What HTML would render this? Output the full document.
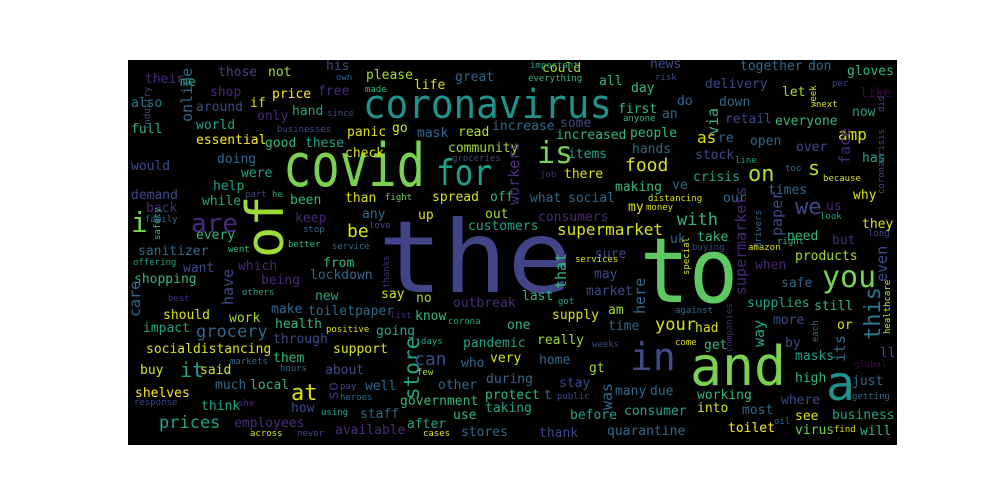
<!DOCTYPE html>
<html><head><meta charset="utf-8">
<style>
html,body{margin:0;padding:0;background:#fff;width:1000px;height:500px;overflow:hidden}
svg{display:block}
text{font-family:"DejaVu Sans Mono","Liberation Mono",monospace}
</style></head>
<body>
<svg id="cloud" width="1000" height="500" viewBox="0 0 1000 500" xmlns="http://www.w3.org/2000/svg">
<rect x="128" y="60" width="769" height="385" fill="#000"/>
<g id="words">
<!-- big words -->
<text x="378" y="292" font-size="100" fill="#414487" textLength="194" lengthAdjust="spacingAndGlyphs">the</text>
<text x="640" y="302" font-size="90" fill="#5ec962" textLength="98" lengthAdjust="spacingAndGlyphs">to</text>
<text x="690" y="385" font-size="54" fill="#7ad151" textLength="96" lengthAdjust="spacingAndGlyphs">and</text>
<text x="283" y="186" font-size="60" fill="#7ad151" textLength="142" lengthAdjust="spacingAndGlyphs">covid</text>
<text x="363" y="118" font-size="40" fill="#21918c" textLength="249" lengthAdjust="spacingAndGlyphs">coronavirus</text>
<text x="436" y="185" font-size="36" fill="#1f9e89" textLength="56" lengthAdjust="spacingAndGlyphs">for</text>
<text x="537" y="163" font-size="30" fill="#7ad151">is</text>
<text transform="translate(283,258) rotate(-90)" font-size="52" fill="#a0da39">of</text>
<text x="630" y="370" font-size="38" fill="#3e4989">in</text>
<text x="826" y="400" font-size="48" fill="#21918c">a</text>
<text x="822" y="287" font-size="30" fill="#7ad151">you</text>
<text x="191" y="232" font-size="26" fill="#482878">are</text>
<text x="131" y="232" font-size="28" fill="#7ad151">i</text>
<text transform="translate(880,340) rotate(-90)" font-size="22" fill="#2a788e">this</text>
<text transform="translate(419,400) rotate(-90)" font-size="21" fill="#20a486">store</text>
<text x="748" y="181" font-size="22" fill="#b5de2b">on</text>
<text x="795" y="214" font-size="22" fill="#3e4989">we</text>
<text x="625" y="171" font-size="18" fill="#d8e219">food</text>
<text x="808" y="175" font-size="20" fill="#b5de2b">s</text>
<text x="677" y="225" font-size="17" fill="#35b779">with</text>
<text x="557" y="235" font-size="16" fill="#d8e219">supermarket</text>
<text x="159" y="428" font-size="17" fill="#20a486">prices</text>
<text x="196" y="337" font-size="17" fill="#31688e">grocery</text>
<text x="655" y="330" font-size="17" fill="#d8e219">your</text>
<text x="838" y="140" font-size="16" fill="#d8e219">amp</text>
<text x="347" y="237" font-size="18" fill="#d8e219">be</text>
<text x="697" y="143" font-size="16" fill="#d8e219">as</text>
<text x="180" y="377" font-size="20" fill="#20a486">it</text>
<text x="291" y="400" font-size="22" fill="#d8e219">at</text>
<text x="414" y="365" font-size="18" fill="#3e4989">can</text>
<!-- medium / small words -->
<g font-size="13">
<text x="145" y="83" fill="#482878">their</text>
<text x="218" y="76" fill="#414487">those</text>
<text x="268" y="76" fill="#a0da39">not</text>
<text x="326" y="70" fill="#3e4989">his</text>
<text x="366" y="79" fill="#a0da39">please</text>
<text x="455" y="81" fill="#31688e">great</text>
<text x="180" y="86" fill="#35b779">me</text>
<text x="210" y="96" fill="#482878">shop</text>
<text x="272" y="98" fill="#fde725">price</text>
<text x="318" y="95" fill="#472d7b">free</text>
<text x="414" y="89" fill="#d8e219">life</text>
<text x="131" y="107" fill="#2a788e">also</text>
<text x="196" y="111" fill="#3e4989">around</text>
<text x="250" y="107" fill="#d8e219">if</text>
<text x="257" y="120" fill="#482878">only</text>
<text x="292" y="115" fill="#20a486">hand</text>
<text x="196" y="129" fill="#20a486">world</text>
<text x="131" y="133" fill="#35b779">full</text>
<text x="347" y="136" fill="#d8e219">panic</text>
<text x="392" y="132" fill="#d8e219">go</text>
<text x="417" y="137" fill="#31688e">mask</text>
<text x="458" y="136" fill="#b5de2b">read</text>
<text x="492" y="130" fill="#31688e">increase</text>
<text x="196" y="144" fill="#fde725">essential</text>
<text x="265" y="147" fill="#35b779">good</text>
<text x="305" y="147" fill="#20a486">these</text>
<text x="345" y="157" fill="#d8e219">check</text>
<text x="448" y="152" fill="#a0da39">community</text>
<text x="217" y="163" fill="#31688e">doing</text>
<text x="131" y="170" fill="#3e4989">would</text>
<text x="241" y="177" fill="#20a486">were</text>
<text x="131" y="199" fill="#3e4989">demand</text>
<text x="146" y="212" fill="#482878">back</text>
<text x="213" y="190" fill="#20a486">help</text>
<text x="202" y="205" fill="#20a486">while</text>
<text x="290" y="204" fill="#35b779">been</text>
<text x="345" y="202" fill="#d8e219">than</text>
<text x="432" y="201" fill="#d8e219">spread</text>
<text x="490" y="201" fill="#35b779">off</text>
<text x="362" y="218" fill="#31688e">any</text>
<text x="295" y="222" fill="#482878">keep</text>
<text x="418" y="219" fill="#d8e219">up</text>
<text x="485" y="218" fill="#a0da39">out</text>
<text x="468" y="230" fill="#20a486">customers</text>
<text x="196" y="239" fill="#35b779">every</text>
<text x="138" y="255" fill="#31688e">sanitizer</text>
<text x="542" y="72" fill="#a0da39">could</text>
<text x="599" y="85" fill="#35b779">all</text>
<text x="650" y="68" fill="#3e4989">news</text>
<text x="740" y="70" fill="#31688e">together</text>
<text x="808" y="70" fill="#31688e">don</text>
<text x="847" y="75" fill="#35b779">gloves</text>
<text x="631" y="92" fill="#35b779">day</text>
<text x="705" y="88" fill="#3e4989">delivery</text>
<text x="782" y="96" fill="#a0da39">let</text>
<text x="860" y="97" fill="#440154">like</text>
<text x="618" y="113" fill="#35b779">first</text>
<text x="677" y="105" fill="#31688e">do</text>
<text x="719" y="106" fill="#31688e">down</text>
<text x="662" y="118" fill="#31688e">an</text>
<text x="725" y="123" fill="#3e4989">retail</text>
<text x="775" y="125" fill="#35b779">everyone</text>
<text x="852" y="116" fill="#20a486">now</text>
<text x="560" y="127" fill="#3e4989">some</text>
<text x="556" y="139" fill="#35b779">increased</text>
<text x="630" y="137" fill="#35b779">people</text>
<text x="718" y="142" fill="#31688e">re</text>
<text x="750" y="145" fill="#31688e">open</text>
<text x="796" y="151" fill="#3e4989">over</text>
<text x="862" y="162" fill="#20a486">has</text>
<text x="632" y="153" fill="#31688e">hands</text>
<text x="568" y="158" fill="#20a486">items</text>
<text x="695" y="159" fill="#3e4989">stock</text>
<text x="564" y="178" fill="#d8e219">there</text>
<text x="693" y="181" fill="#20a486">crisis</text>
<text x="615" y="191" fill="#35b779">making</text>
<text x="672" y="189" fill="#31688e">ve</text>
<text x="768" y="194" fill="#31688e">times</text>
<text x="853" y="199" fill="#d8e219">why</text>
<text x="530" y="202" fill="#31688e">what</text>
<text x="568" y="202" fill="#31688e">social</text>
<text x="723" y="202" fill="#31688e">our</text>
<text x="826" y="210" fill="#482878">us</text>
<text x="628" y="211" fill="#d8e219">my</text>
<text x="538" y="221" fill="#482878">consumers</text>
<text x="862" y="228" fill="#d8e219">they</text>
<text x="670" y="243" fill="#31688e">uk</text>
<text x="697" y="241" fill="#35b779">take</text>
<text x="787" y="240" fill="#35b779">need</text>
<text x="832" y="244" fill="#472d7b">but</text>
<text x="595" y="258" fill="#3e4989">sure</text>
<text x="795" y="260" fill="#a0da39">products</text>
<text x="755" y="269" fill="#482878">when</text>
<text x="781" y="287" fill="#31688e">safe</text>
<text x="323" y="267" fill="#35b779">from</text>
<text x="310" y="279" fill="#31688e">lockdown</text>
<text x="134" y="283" fill="#35b779">shopping</text>
<text x="183" y="272" fill="#3e4989">want</text>
<text x="238" y="270" fill="#482878">which</text>
<text x="261" y="284" fill="#482878">being</text>
<text x="315" y="300" fill="#20a486">new</text>
<text x="381" y="298" fill="#d8e219">say</text>
<text x="416" y="302" fill="#a0da39">no</text>
<text x="453" y="307" fill="#472d7b">outbreak</text>
<text x="522" y="300" fill="#35b779">last</text>
<text x="594" y="278" fill="#3e4989">may</text>
<text x="586" y="295" fill="#3e4989">market</text>
<text x="747" y="307" fill="#20a486">supplies</text>
<text x="814" y="310" fill="#35b779">still</text>
<text x="163" y="319" fill="#d8e219">should</text>
<text x="229" y="322" fill="#a0da39">work</text>
<text x="271" y="313" fill="#31688e">make</text>
<text x="308" y="315" fill="#31688e">toiletpaper</text>
<text x="415" y="320" fill="#35b779">know</text>
<text x="608" y="314" fill="#a0da39">am</text>
<text x="608" y="330" fill="#31688e">time</text>
<text x="695" y="332" fill="#d8e219">had</text>
<text x="773" y="324" fill="#3e4989">more</text>
<text x="837" y="329" fill="#d8e219">or</text>
<text x="143" y="332" fill="#20a486">impact</text>
<text x="275" y="328" fill="#35b779">health</text>
<text x="273" y="343" fill="#3e4989">through</text>
<text x="376" y="335" fill="#20a486">going</text>
<text x="552" y="319" fill="#d8e219">supply</text>
<text x="507" y="329" fill="#35b779">one</text>
<text x="146" y="353" fill="#d8e219">socialdistancing</text>
<text x="333" y="353" fill="#d8e219">support</text>
<text x="463" y="347" fill="#20a486">pandemic</text>
<text x="537" y="344" fill="#a0da39">really</text>
<text x="704" y="349" fill="#35b779">get</text>
<text x="785" y="347" fill="#3e4989">by</text>
<text x="880" y="357" fill="#3e4989">ll</text>
<text x="140" y="374" fill="#d8e219">buy</text>
<text x="200" y="374" fill="#d8e219">said</text>
<text x="273" y="362" fill="#35b779">them</text>
<text x="325" y="374" fill="#3e4989">about</text>
<text x="461" y="367" fill="#31688e">who</text>
<text x="490" y="362" fill="#d8e219">very</text>
<text x="539" y="364" fill="#31688e">home</text>
<text x="589" y="372" fill="#a0da39">gt</text>
<text x="795" y="360" fill="#20a486">masks</text>
<text x="795" y="382" fill="#35b779">high</text>
<text x="852" y="385" fill="#31688e">just</text>
<text x="215" y="389" fill="#31688e">much</text>
<text x="250" y="389" fill="#35b779">local</text>
<text x="135" y="397" fill="#fde725">shelves</text>
<text x="365" y="390" fill="#31688e">well</text>
<text x="438" y="389" fill="#31688e">other</text>
<text x="486" y="383" fill="#31688e">during</text>
<text x="559" y="387" fill="#3e4989">stay</text>
<text x="615" y="395" fill="#31688e">many</text>
<text x="650" y="395" fill="#31688e">due</text>
<text x="781" y="404" fill="#3e4989">where</text>
<text x="201" y="410" fill="#20a486">think</text>
<text x="291" y="412" fill="#3e4989">how</text>
<text x="485" y="399" fill="#35b779">protect</text>
<text x="544" y="399" fill="#31688e">t</text>
<text x="697" y="399" fill="#35b779">working</text>
<text x="832" y="419" fill="#20a486">business</text>
<text x="795" y="420" fill="#d8e219">see</text>
<text x="360" y="418" fill="#31688e">staff</text>
<text x="400" y="405" fill="#35b779">government</text>
<text x="485" y="412" fill="#20a486">taking</text>
<text x="697" y="412" fill="#d8e219">into</text>
<text x="742" y="414" fill="#31688e">most</text>
<text x="234" y="427" fill="#472d7b">employees</text>
<text x="453" y="419" fill="#35b779">use</text>
<text x="570" y="419" fill="#20a486">before</text>
<text x="624" y="415" fill="#20a486">consumer</text>
<text x="795" y="434" fill="#6ece58">virus</text>
<text x="728" y="432" fill="#fde725">toilet</text>
<text x="335" y="434" fill="#472d7b">available</text>
<text x="407" y="428" fill="#20a486">after</text>
<text x="461" y="436" fill="#31688e">stores</text>
<text x="539" y="437" fill="#3e4989">thank</text>
<text x="607" y="435" fill="#31688e">quarantine</text>
<text x="860" y="435" fill="#35b779">will</text>
</g>
<g font-size="15">
<text transform="translate(192,122) rotate(-90)" fill="#31688e">online</text>
<text transform="translate(519,205) rotate(-90)" fill="#472d7b">workers</text>
<text transform="translate(233,305) rotate(-90)" fill="#3e4989">have</text>
<text transform="translate(566,289) rotate(-90)" fill="#35b779">that</text>
<text transform="translate(645,314) rotate(-90)" fill="#31688e">here</text>
<text transform="translate(887,282) rotate(-90)" fill="#3e4989">even</text>
<text transform="translate(782,236) rotate(-90)" fill="#3e4989">paper</text>
<text transform="translate(746,295) rotate(-90)" fill="#482878">supermarkets</text>
<text transform="translate(845,362) rotate(-90)" fill="#31688e">its</text>
<text transform="translate(850,164) rotate(-90)" fill="#472d7b">face</text>
<text transform="translate(718,135) rotate(-90)" fill="#35b779">via</text>
<text transform="translate(612,410) rotate(-90)" fill="#31688e">was</text>
<text transform="translate(764,347) rotate(-90)" fill="#20a486">way</text>
<text transform="translate(140,317) rotate(-90)" fill="#31688e">care</text>
<text transform="translate(338,400) rotate(-90)" fill="#472d7b">so</text>
</g>
<g font-size="9">
<text x="336" y="80" fill="#31688e">own</text>
<text x="365" y="92" fill="#35b779">made</text>
<text x="327" y="116" fill="#3e4989">since</text>
<text x="277" y="132" fill="#3e4989">businesses</text>
<text x="452" y="161" fill="#3e4989">groceries</text>
<text x="245" y="197" fill="#3e4989">part</text>
<text x="272" y="197" fill="#20a486">he</text>
<text x="385" y="200" fill="#6ece58">fight</text>
<text x="145" y="222" fill="#31688e">family</text>
<text x="303" y="232" fill="#31688e">stop</text>
<text x="369" y="228" fill="#3e4989">love</text>
<text x="288" y="247" fill="#35b779">better</text>
<text x="332" y="249" fill="#31688e">service</text>
<text x="228" y="252" fill="#35b779">went</text>
<text x="530" y="68" fill="#20a486">important</text>
<text x="528" y="81" fill="#35b779">everything</text>
<text x="655" y="80" fill="#3e4989">risk</text>
<text x="832" y="86" fill="#3e4989">per</text>
<text x="816" y="107" fill="#d8e219">next</text>
<text x="623" y="121" fill="#35b779">anyone</text>
<text x="735" y="163" fill="#20a486">line</text>
<text x="785" y="171" fill="#31688e">too</text>
<text x="823" y="181" fill="#d8e219">because</text>
<text x="540" y="177" fill="#472d7b">job</text>
<text x="648" y="201" fill="#d8e219">distancing</text>
<text x="646" y="210" fill="#d8e219">money</text>
<text x="820" y="219" fill="#20a486">look</text>
<text x="868" y="236" fill="#3e4989">long</text>
<text x="777" y="244" fill="#35b779">right</text>
<text x="692" y="250" fill="#3e4989">buying</text>
<text x="748" y="250" fill="#d8e219">amazon</text>
<text x="133" y="265" fill="#20a486">offering</text>
<text x="168" y="301" fill="#472d7b">best</text>
<text x="242" y="295" fill="#20a486">others</text>
<text x="575" y="262" fill="#d8e219">services</text>
<text x="558" y="304" fill="#20a486">got</text>
<text x="390" y="318" fill="#472d7b">list</text>
<text x="675" y="313" fill="#31688e">against</text>
<text x="326" y="332" fill="#d8e219">positive</text>
<text x="448" y="324" fill="#20a486">corona</text>
<text x="421" y="344" fill="#20a486">days</text>
<text x="592" y="347" fill="#3e4989">weeks</text>
<text x="675" y="345" fill="#d8e219">come</text>
<text x="230" y="364" fill="#31688e">markets</text>
<text x="280" y="371" fill="#31688e">hours</text>
<text x="417" y="375" fill="#a0da39">few</text>
<text x="854" y="367" fill="#440154">global</text>
<text x="340" y="389" fill="#3e4989">pay</text>
<text x="340" y="400" fill="#31688e">heroes</text>
<text x="557" y="399" fill="#3e4989">public</text>
<text x="852" y="399" fill="#31688e">getting</text>
<text x="134" y="405" fill="#3e4989">response</text>
<text x="238" y="406" fill="#472d7b">she</text>
<text x="321" y="415" fill="#20a486">using</text>
<text x="250" y="436" fill="#d8e219">across</text>
<text x="297" y="436" fill="#3e4989">never</text>
<text x="423" y="436" fill="#d8e219">cases</text>
<text x="774" y="424" fill="#31688e">oil</text>
<text x="834" y="432" fill="#d8e219">find</text>
</g>
<g font-size="9">
<text transform="translate(150,130) rotate(-90)" fill="#3e4989">industry</text>
<text transform="translate(160,240) rotate(-90)" fill="#35b779">safety</text>
<text transform="translate(689,275) rotate(-90)" fill="#d8e219">special</text>
<text transform="translate(761,248) rotate(-90)" fill="#31688e">drivers</text>
<text transform="translate(884,194) rotate(-90)" fill="#3e4989">coronacrisis</text>
<text transform="translate(884,112) rotate(-90)" fill="#3e4989">did</text>
<text transform="translate(816,107) rotate(-90)" fill="#d8e219">week</text>
<text transform="translate(890,334) rotate(-90)" fill="#d8e219">healthcare</text>
<text transform="translate(389,288) rotate(-90)" fill="#472d7b">thanks</text>
<text transform="translate(732,352) rotate(-90)" fill="#482878">companies</text>
<text transform="translate(818,342) rotate(-90)" fill="#31688e">each</text>
</g>
</g>
</svg>
<script>
var ws = document.querySelectorAll('#words text');
for (var i = 0; i < ws.length; i++) {
  var el = ws[i];
  
  
}
</script>
</body></html>
